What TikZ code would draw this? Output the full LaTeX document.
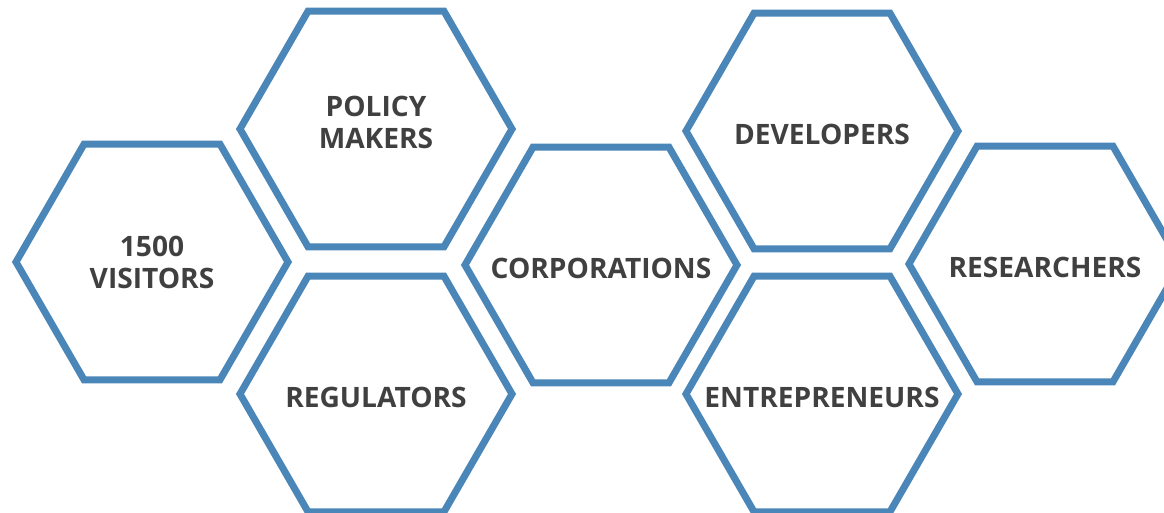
\documentclass[tikz,border=0pt]{standalone}
\usepackage{fontspec}
\setmainfont{Open Sans}
\usetikzlibrary{shapes.geometric}
\definecolor{hexblue}{RGB}{74,134,183}
\definecolor{hextext}{RGB}{64,64,64}
\tikzset{
  hexa/.style={regular polygon, regular polygon sides=6, minimum size=5.44cm,
    inner sep=0pt, draw=hexblue, line width=0.14cm, line join=miter},
  hexlabel/.style={text=hextext, font=\fontsize{16}{18.2}\selectfont\bfseries,
    align=center, inner sep=0pt},
  onelabel/.style={hexlabel, yshift=-0.06cm}
}

\begin{document}
\begin{tikzpicture}
                                \useasboundingbox (0,0) rectangle (23.28,10.24);
                                \clip (0,0) rectangle (23.28,10.24);
                                \node[hexa, label={[hexlabel]center:1500\\VISITORS}] (visitors) at (3.04,5.00) {};
                                \node[hexa, label={[hexlabel, yshift=0.14cm]center:POLICY\\MAKERS}] (policy) at (7.52,7.66) {};
                                \node[hexa, label={[onelabel]center:REGULATORS}] (regulators) at (7.52,2.36) {};
                                \node[hexa, label={[onelabel]center:CORPORATIONS}] (corporations) at (12.02,4.94) {};
                                \node[hexa, label={[onelabel]center:DEVELOPERS}] (developers) at (16.44,7.62) {};
                                \node[hexa, label={[onelabel]center:ENTREPRENEURS}] (entrepreneurs) at (16.44,2.36) {};
                                \node[hexa, label={[onelabel]center:RESEARCHERS}] (researchers) at (20.90,4.96) {};
                            \end{tikzpicture}
\end{document}
